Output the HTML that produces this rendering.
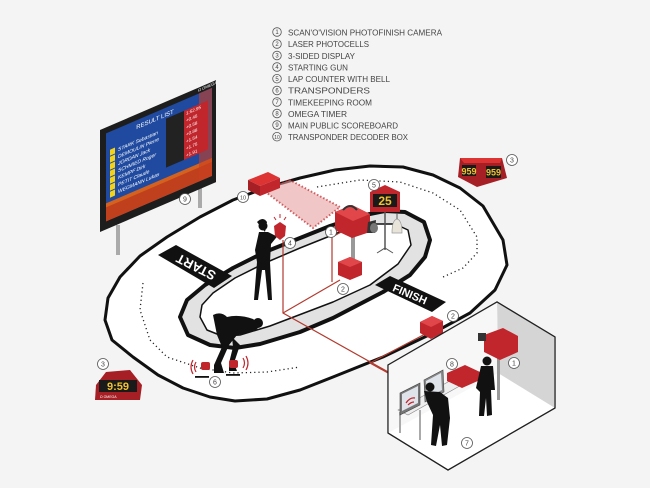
<!DOCTYPE html>
<html><head><meta charset="utf-8"><style>
html,body{margin:0;padding:0;background:#f4f4f4;}
svg{display:block;}
text{font-family:"Liberation Sans",sans-serif;}
</style></head><body>
<svg width="650" height="488" viewBox="0 0 650 488" xmlns="http://www.w3.org/2000/svg">
<rect width="650" height="488" fill="#f4f4f4"/>

<!-- Legend -->
<g font-size="8.5" fill="#444">
<g fill="none" stroke="#555" stroke-width="0.8">
<circle cx="277" cy="32" r="4.3"/><circle cx="277" cy="44" r="4.3"/><circle cx="277" cy="55.5" r="4.3"/><circle cx="277" cy="67" r="4.3"/><circle cx="277" cy="78.7" r="4.3"/><circle cx="277" cy="90.5" r="4.3"/><circle cx="277" cy="102" r="4.3"/><circle cx="277" cy="113.5" r="4.3"/><circle cx="277" cy="125" r="4.3"/><circle cx="277" cy="136.7" r="4.3"/>
</g>
<g font-size="6" text-anchor="middle" fill="#444">
<text x="277" y="34.2">1</text><text x="277" y="46.2">2</text><text x="277" y="57.7">3</text><text x="277" y="69.2">4</text><text x="277" y="80.9">5</text><text x="277" y="92.7">6</text><text x="277" y="104.2">7</text><text x="277" y="115.7">8</text><text x="277" y="127.2">9</text><text x="277" y="138.9" font-size="5">10</text>
</g>
<text x="288" y="35.5" textLength="154" lengthAdjust="spacingAndGlyphs">SCAN'O'VISION PHOTOFINISH CAMERA</text>
<text x="288" y="47.2" textLength="81" lengthAdjust="spacingAndGlyphs">LASER PHOTOCELLS</text>
<text x="288" y="58.8" textLength="67" lengthAdjust="spacingAndGlyphs">3-SIDED DISPLAY</text>
<text x="288" y="70.3" textLength="60" lengthAdjust="spacingAndGlyphs">STARTING GUN</text>
<text x="288" y="82" textLength="102" lengthAdjust="spacingAndGlyphs">LAP COUNTER WITH BELL</text>
<text x="288" y="93.7" textLength="82" lengthAdjust="spacingAndGlyphs">TRANSPONDERS</text>
<text x="288" y="105.3" textLength="84" lengthAdjust="spacingAndGlyphs">TIMEKEEPING ROOM</text>
<text x="288" y="116.8" textLength="59" lengthAdjust="spacingAndGlyphs">OMEGA TIMER</text>
<text x="288" y="128.3" textLength="110" lengthAdjust="spacingAndGlyphs">MAIN PUBLIC SCOREBOARD</text>
<text x="288" y="140" textLength="120" lengthAdjust="spacingAndGlyphs">TRANSPONDER DECODER BOX</text>
</g>

<!-- Track -->
<path d="M105,320 L112,340 L133,357 L158,375 L183,388 L210,397 L235,401 L267,399 L300,390 L333,377 L383,357 L433,333 L470,313 L495,290 L507,265 L503,240 L483,206 L460,188 L433,175 L403,167 L370,166 L335,170 L300,178 L265,188 L233,200 L200,217 L167,237 L140,256 L120,277 L108,298 Z" fill="#fff" stroke="#111" stroke-width="3" stroke-linejoin="round"/>
<!-- dotted lines -->
<path d="M143,283 L140,310 L150,340 L167,357 L200,368 L233,373 L267,372 L300,367" fill="none" stroke="#222" stroke-width="1.3" stroke-dasharray="1.2 3"/>
<path d="M317,187 L360,180 L400,182 L433,193 L460,210 L477,237 L477,253 L463,268 L443,277" fill="none" stroke="#222" stroke-width="1.3" stroke-dasharray="1.2 3"/>
<!-- gray lane -->
<path d="M180,317 L188,335 L210,345 L235,348 L260,344 L300,332 L333,318 L383,292 L410,275 L425,257 L430,240 L424,222 L405,212 L385,211 L360,216 L330,226 L300,238 L265,252 L233,268 L205,285 L187,300 Z" fill="#e2e2e2" stroke="#111" stroke-width="4" stroke-linejoin="round"/>
<path d="M200,317 L207,330 L222,336 L240,335 L270,326 L333,302 L370,285 L398,264 L411,245 L408,230 L395,224 L372,224 L340,232 L300,248 L265,263 L235,278 L213,293 L202,305 Z" fill="#fff" stroke="#111" stroke-width="1.5" stroke-linejoin="round"/>

<!-- START / FINISH -->
<polygon points="158,255 176,245 232,276 214,288" fill="#111"/>
<text x="0" y="0" font-size="13" font-weight="bold" fill="#fff" text-anchor="middle" transform="translate(196,267) rotate(207) translate(0,4.5)">START</text>
<polygon points="375,285 390,276 446,302 432,312" fill="#111"/>
<text x="0" y="0" font-size="11" font-weight="bold" fill="#fff" text-anchor="middle" transform="translate(410,294) rotate(23) translate(0,4)">FINISH</text>

<!-- decoder box & dots -->
<polygon points="263,190 290,180 340,207 313,228" fill="#e8a0a0" opacity="0.6"/>
<polygon points="263,190 290,180 340,207 313,228" fill="none" stroke="#c0262c" stroke-width="2" stroke-dasharray="1.5 2" opacity="0.7"/>
<polygon points="248,180 268,172 280,178 260,186" fill="#d33"/>
<polygon points="248,180 260,186 260,196 248,190" fill="#a51f24"/>
<polygon points="260,186 280,178 280,188 260,196" fill="#c0262c"/>

<!-- red wires -->
<g stroke="#b23a2e" stroke-width="1.2" fill="none">
<path d="M283,240 L283,313 L390,373"/>
<path d="M283,313 L340,280"/>
<path d="M332,237 L332,282"/>
<path d="M332,237 L345,230"/>
<path d="M427,333 L370,363 L388,373"/>
</g>

<!-- Camera 1 on pole -->
<rect x="351" y="230" width="4" height="30" fill="#999"/>
<polygon points="335,212 352,205 370,214 370,232 352,238 335,230" fill="#c0262c"/>
<polygon points="335,212 352,205 370,214 353,221" fill="#e0464a"/>
<path d="M343,210 q7,-8 14,0" stroke="#333" stroke-width="2" fill="none"/>
<polygon points="368,222 376,220 375,233 367,233" fill="#333"/>
<ellipse cx="374" cy="228" rx="4" ry="5" fill="#777"/>
<!-- photocell -->
<polygon points="338,262 350,257 362,262 362,275 350,280 338,275" fill="#c0262c"/>
<polygon points="338,262 350,257 362,262 350,267" fill="#e0464a"/>

<!-- lap counter 5 -->
<line x1="385" y1="212" x2="385" y2="250" stroke="#555" stroke-width="1.5"/>
<path d="M377,253 L385,248 L393,253" stroke="#555" fill="none"/>
<polygon points="385,185 400,192 400,212 370,212 370,192" fill="#c0262c"/>
<rect x="373" y="194" width="24" height="13" fill="#1a1a1a"/>
<text x="385" y="205" font-size="12" font-weight="bold" fill="#f2c230" text-anchor="middle">25</text>
<!-- bell -->
<path d="M392,233 q0,-13 5,-14 q5,1 5,14 z" fill="#e8e4da" stroke="#999" stroke-width="0.7"/>
<line x1="397" y1="213" x2="397" y2="219" stroke="#555"/>

<!-- top-right display -->
<polygon points="460,158 502,158 507,178 477,187 458,177" fill="#a51f24"/>
<polygon points="460,158 502,158 500,163 464,163" fill="#d33"/>
<rect x="462" y="165" width="14" height="11" fill="#1a1a1a"/>
<rect x="486" y="166" width="15" height="12" fill="#1a1a1a"/>
<text x="469" y="174.5" font-size="9" font-weight="bold" fill="#f2c230" text-anchor="middle">959</text>
<text x="493.5" y="175.5" font-size="9" font-weight="bold" fill="#f2c230" text-anchor="middle">959</text>

<!-- bottom-left display -->
<polygon points="106,372 130,370 142,385 140,400 95,400 96,385" fill="#a51f24"/>
<rect x="99" y="380" width="38" height="12" fill="#1a1a1a"/>
<text x="118" y="390" font-size="11" font-weight="bold" fill="#f2c230" text-anchor="middle">9:59</text>
<text x="100" y="398" font-size="3.5" fill="#fff">Ω OMEGA</text>

<!-- Scoreboard -->
<rect x="116" y="225" width="4" height="30" fill="#aaa"/>
<rect x="198" y="180" width="4" height="28" fill="#aaa"/>
<g transform="translate(100,130) matrix(1,-0.43,0,1,0,0)">
<rect x="0" y="0" width="116" height="102" fill="#1d1d1d"/>
<rect x="6" y="6" width="106" height="88" fill="#1f4aa0"/>
<rect x="6" y="76" width="106" height="18" fill="#d4621e"/>
<rect x="6" y="80" width="106" height="14" fill="#b8321c" opacity="0.7"/>
<rect x="99" y="6" width="13" height="88" fill="#c9401f" opacity="0.6"/>
<text x="55" y="15" font-size="6" fill="#fff" text-anchor="middle">RESULT LIST</text>
<text x="98" y="4" font-size="4" fill="#fff">Ω OMEGA</text>
<g font-size="5" fill="#fff" font-style="italic">
<rect x="10" y="24" width="5" height="6" fill="#f2d21a"/><text x="18" y="29">STARK Sebastian</text>
<rect x="10" y="31" width="5" height="6" fill="#f2d21a"/><text x="18" y="36">DEMOULIN Pierre</text>
<rect x="10" y="38" width="5" height="6" fill="#f2d21a"/><text x="18" y="43">JORDAN Jack</text>
<rect x="10" y="45" width="5" height="6" fill="#f2d21a"/><text x="18" y="50">SCHMIED Roger</text>
<rect x="10" y="52" width="5" height="6" fill="#f2d21a"/><text x="18" y="57">KEMPF Dirk</text>
<rect x="10" y="59" width="5" height="6" fill="#f2d21a"/><text x="18" y="64">PETIT Claude</text>
<rect x="10" y="66" width="5" height="6" fill="#f2d21a"/><text x="18" y="71">WEGMANN Lukas</text>
</g>
<g>
<rect x="66" y="17" width="18" height="49" fill="#222"/>
<rect x="84" y="17" width="24" height="49" fill="#c0262c"/>
</g>
<g font-size="4.5" fill="#fff">
<text x="86" y="22">1:52.95</text><text x="86" y="29">+0.45</text><text x="86" y="36">+0.58</text><text x="86" y="43">+0.88</text><text x="86" y="50">+1.54</text><text x="86" y="57">+1.75</text><text x="86" y="64">+1.91</text>
</g>
</g>

<!-- Woman -->
<g fill="#111">
<circle cx="263" cy="226" r="4.5"/>
<path d="M257,222 q6,-6 10,0 l-2,10 z"/>
<path d="M259,232 L268,232 L276,236 L279,230 L280,233 L271,244 L270,262 L272,300 L268,300 L265,270 L262,270 L258,300 L254,300 L257,262 L255,250 Z"/>
</g>
<path d="M274,226 l6,-4 l6,4 l-1,10 l-5,4 l-5,-4 z" fill="#c0262c"/>
<path d="M276,220 l-2,-3 M280,218 v-4 M284,220 l2,-3" stroke="#c0262c" stroke-width="1"/>

<!-- Skater -->
<g fill="#111">
<circle cx="258" cy="323" r="5"/>
<path d="M213,315 q8,-4 14,2 q12,-3 26,2 l8,6 l-6,6 l-18,4 l-8,10 l-8,18 l3,10 l-10,0 l0,-8 l8,-18 l-5,-12 z"/>
<path d="M232,337 l8,8 l-6,18 l3,8 l-8,0 l0,-8 l4,-16 z"/>
<rect x="195" y="376" width="14" height="1.8"/>
<rect x="226" y="374" width="14" height="1.8"/>
</g>
<rect x="201" y="362" width="9" height="8" rx="2" fill="#c0262c"/>
<rect x="229" y="360" width="9" height="8" rx="2" fill="#c0262c"/>
<g stroke="#c0262c" stroke-width="1.2" fill="none">
<path d="M196,362 q-3,5 0,10 M193,360 q-4,7 0,14"/>
<path d="M243,358 q3,5 0,10 M246,356 q4,7 0,14"/>
</g>

<!-- finish photocell 2 -->
<polygon points="420,322 432,316 443,321 443,333 431,339 420,333" fill="#c0262c"/>
<polygon points="420,322 432,316 443,321 431,327" fill="#e0464a"/>

<!-- Timekeeping room -->
<polygon points="388,365 497,302 555,337 555,408 448,470 388,433" fill="#fff" stroke="#222" stroke-width="1.2"/>
<polygon points="497,302 555,337 555,408 498,373" fill="#d5d5d5"/>
<polygon points="388,365 497,302 498,373 388,433" fill="#f7f7f7"/>
<polygon points="388,365 497,302 555,337 555,408 448,470 388,433" fill="none" stroke="#222" stroke-width="1.2"/>
<!-- room camera -->
<rect x="497" y="355" width="3" height="45" fill="#999"/>
<polygon points="484,335 503,328 518,336 518,352 500,360 484,352" fill="#c0262c"/>
<rect x="478" y="333" width="8" height="8" fill="#333"/>
<!-- table -->
<polygon points="398,410 455,378 465,383 408,415" fill="#eee" stroke="#888" stroke-width="0.6"/>
<line x1="400" y1="412" x2="400" y2="433" stroke="#aaa" stroke-width="2"/>
<line x1="420" y1="410" x2="420" y2="440" stroke="#aaa" stroke-width="2"/>
<!-- laptops -->
<polygon points="400,393 420,383 420,405 400,415" fill="#777" stroke="#444" stroke-width="0.6"/>
<polygon points="402,394 418,386 418,403 402,411" fill="#dfe4ea"/>
<path d="M406,403 q4,-6 9,-5 M408,405 q3,-3 6,-3" stroke="#c0262c" stroke-width="1.2" fill="none"/>
<polygon points="424,380 443,370 444,392 425,402" fill="#888" stroke="#444" stroke-width="0.6"/>
<polygon points="426,381 441,373 442,390 427,398" fill="#dfe4ea"/>
<!-- omega timer 8 -->
<polygon points="447,373 465,365 480,372 480,380 462,388 447,381" fill="#c0262c"/>
<!-- people -->
<g fill="#111">
<circle cx="430" cy="387" r="4.5"/>
<path d="M424,391 L440,392 L448,398 L450,418 L447,445 L442,446 L440,425 L436,446 L431,445 L433,415 L427,402 Z"/>
<circle cx="487" cy="361" r="4.5"/>
<path d="M481,366 L493,366 L495,390 L491,390 L492,415 L487,416 L486,398 L484,416 L479,416 L480,392 L476,388 Z"/>
</g>

<!-- number labels -->
<g fill="#fff" stroke="#555" stroke-width="0.8">
<circle cx="331" cy="232" r="5.5"/><circle cx="343" cy="289" r="5.5"/><circle cx="453" cy="316" r="5.5"/><circle cx="512" cy="160" r="5.5"/><circle cx="103" cy="364" r="5.5"/><circle cx="290" cy="243" r="5.5"/><circle cx="374" cy="185" r="5.5"/><circle cx="215" cy="382" r="5.5"/><circle cx="467" cy="443" r="5.5"/><circle cx="452" cy="364" r="5.5"/><circle cx="185" cy="199" r="5.5"/><circle cx="243" cy="197" r="5.5"/><circle cx="514" cy="363" r="5.5"/>
</g>
<g font-size="7" fill="#444" text-anchor="middle">
<text x="331" y="234.5">1</text><text x="343" y="291.5">2</text><text x="453" y="318.5">2</text><text x="512" y="162.5">3</text><text x="103" y="366.5">3</text><text x="290" y="245.5">4</text><text x="374" y="187.5">5</text><text x="215" y="384.5">6</text><text x="467" y="445.5">7</text><text x="452" y="366.5">8</text><text x="185" y="201.5">9</text><text x="243" y="199.5" font-size="5.5">10</text><text x="514" y="365.5">1</text>
</g>
</svg>
</body></html>
